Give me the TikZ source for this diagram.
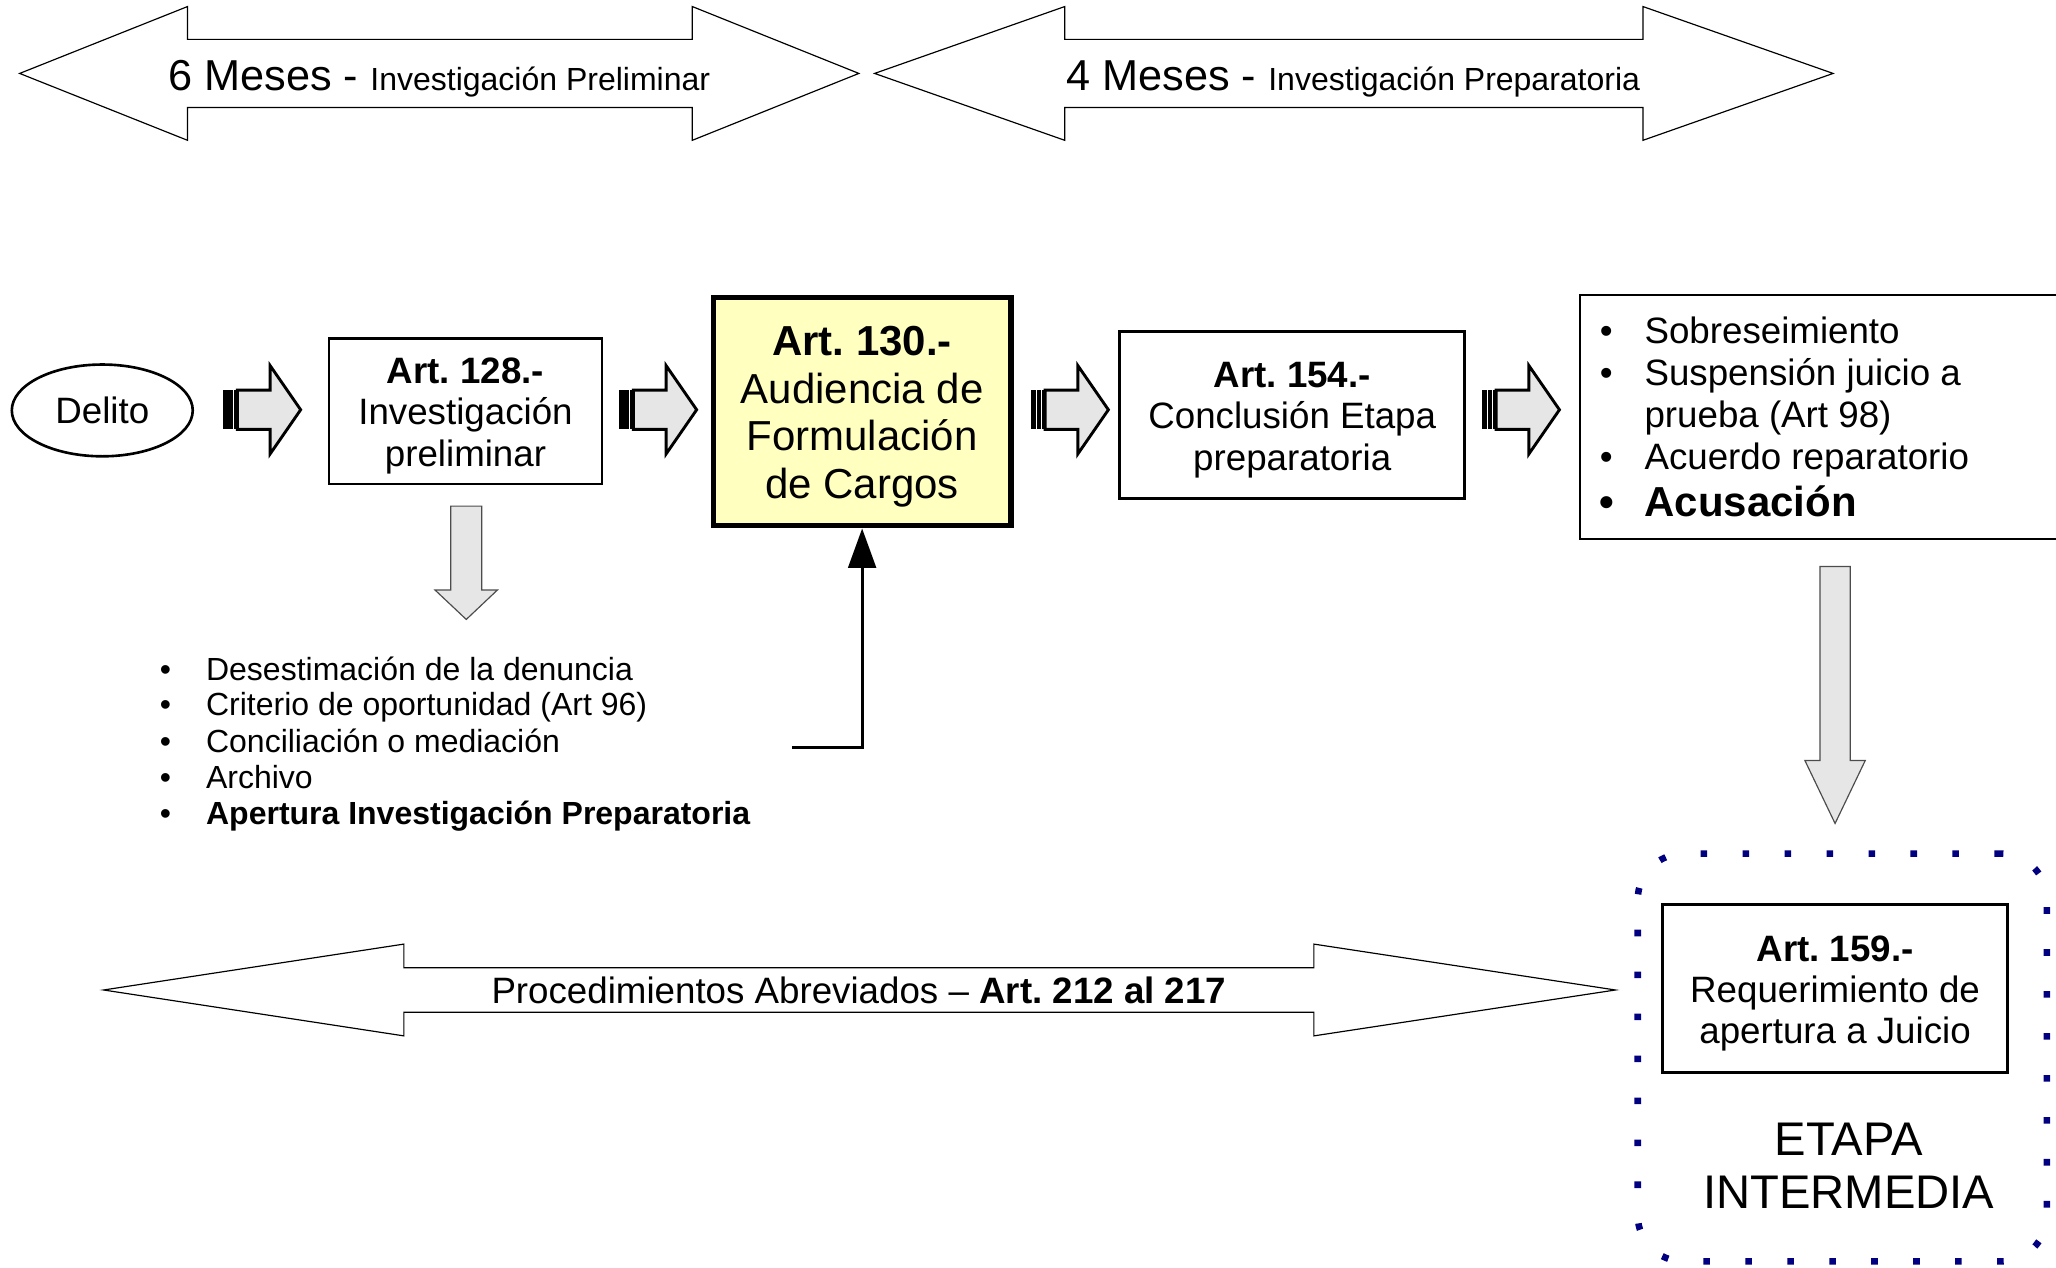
\documentclass[tikz,border=0pt]{standalone}
\usepackage{fontspec}
\setmainfont{Liberation Sans}
\usetikzlibrary{arrows.meta,shapes.geometric}
\definecolor{navydot}{RGB}{0,0,128}
\definecolor{paleyellow}{RGB}{255,255,192}
\definecolor{arrowgray}{RGB}{230,230,230}
\newcommand{\myTopStrut}[1]{\rule{0pt}{#1}}
\frenchspacing
\tikzset{
  box/.style={draw, line width=2pt, inner sep=0pt, align=center, font=\fontsize{28}{31.5}\selectfont},
  bigbox/.style={draw, line width=4pt, fill=paleyellow, inner sep=0pt, align=center, font=\fontsize{32}{36.5}\selectfont},
  dblarrow/.style={draw, line width=0.9pt, fill=white, line join=miter},
  blockarrow/.style={draw, line width=2.2pt, fill=arrowgray, line join=miter},
  downarrow/.style={draw=black!70, line width=0.9pt, fill=arrowgray},
  listitem/.style={anchor=base west, inner sep=0pt},
  listR/.style={listitem, font=\fontsize{28}{32}\selectfont},
  listL/.style={listitem, font=\fontsize{24.4}{27.5}\selectfont},
  connector/.style={line width=2.5pt, -{Triangle[length=30pt,width=21pt]}},
  stripearrow/.pic={
    \fill (0,-15) rectangle (4.3,15);
    \fill (5,-15) rectangle (7.7,15);
    \fill (8.4,-15) rectangle (11,15);
    \draw[blockarrow] (11,-15) -- (36,-15) -- (36,-33.7) -- (59.3,0) -- (36,33.7) -- (36,15) -- (11,15) -- cycle;
  }
}
\begin{document}
\frenchspacing
\begin{tikzpicture}[x=1pt,y=-1pt]
\useasboundingbox (0,0) rectangle (1568,967);

% top double arrows
\draw[dblarrow] (15,56) -- (143,5) -- (143,30) -- (528,30) -- (528,5) -- (655,56) -- (528,107) -- (528,82) -- (143,82) -- (143,107) -- cycle;
\node[anchor=base, inner sep=0pt] (t1) at (335,69) {{\fontsize{33}{36}\selectfont 6 Meses - }{\fontsize{24.4}{28}\selectfont Investigación Preliminar}};
\draw[dblarrow] (667,56) -- (812,5) -- (812,30) -- (1253,30) -- (1253,5) -- (1398,56) -- (1253,107) -- (1253,82) -- (812,82) -- (812,107) -- cycle;
\node[anchor=base, inner sep=0pt] (t2) at (1032,69) {{\fontsize{33}{36}\selectfont 4 Meses - }{\fontsize{24.4}{28}\selectfont Investigación Preparatoria}};

% main row
\node[draw, ellipse, line width=2pt, minimum width=138, minimum height=70, inner sep=0pt, font=\fontsize{28}{31.5}\selectfont] (delito) at (78,313) {Delito};
\pic at (170,312.5) {stripearrow};
\node[box, minimum width=208, minimum height=111] (b128) at (355,313.5) {\myTopStrut{27pt}\textbf{Art. 128.-}\\Investigación\\preliminar};
\pic at (472,312.5) {stripearrow};
\node[bigbox, minimum width=227, minimum height=174] (b130) at (657.5,314) {\myTopStrut{30pt}\textbf{Art. 130.-}\\Audiencia de\\Formulación\\de Cargos};
\pic at (786,312.5) {stripearrow};
\node[box, minimum width=263, minimum height=127] (b154) at (985.5,316.5) {\myTopStrut{27pt}\textbf{Art. 154.-}\\Conclusión Etapa\\preparatoria};
\pic at (1130,312.5) {stripearrow};

% right list box
\draw[line width=1pt] (1570,225) -| (1205,411) -- (1570,411);
\node[listR] (r1) at (1220,262) {\makebox[34pt][l]{•}Sobreseimiento};
\node[listR] (r2) at (1220,294) {\makebox[34pt][l]{•}Suspensión juicio a};
\node[listR] (r3) at (1254,326) {prueba (Art 98)};
\node[listR] (r4) at (1220,358) {\makebox[34pt][l]{•}Acuerdo reparatorio};
\node[listitem, font=\bfseries\fontsize{32}{36}\selectfont] (r5) at (1219.4,394) {\makebox[34.6pt][l]{•}Acusación};

% down arrow under Art. 128
\draw[downarrow] (343.8,386) -- (367.4,386) -- (367.4,450) -- (379.3,450) -- (355.6,472.4) -- (331.8,450) -- (343.8,450) -- cycle;

% left list
\node[listL] (l1) at (121.7,519) {\makebox[35.3pt][l]{•}Desestimación de la denuncia};
\node[listL] (l2) at (121.7,546) {\makebox[35.3pt][l]{•}Criterio de oportunidad (Art 96)};
\node[listL] (l3) at (121.7,573.5) {\makebox[35.3pt][l]{•}Conciliación o mediación};
\node[listL] (l4) at (121.7,601) {\makebox[35.3pt][l]{•}Archivo};
\node[listL] (l5) at (121.7,628.5) {\makebox[35.3pt][l]{•}\textbf{Apertura Investigación Preparatoria}};

% connector to Art. 130
\coordinate (cstart) at (604,570);
\draw[connector] (cstart) -| (b130.south);

% right down arrow
\draw[downarrow] (1388,432) -- (1411,432) -- (1411,580) -- (1422.5,580) -- (1399.5,628) -- (1376.5,580) -- (1388,580) -- cycle;

% bottom double arrow
\draw[dblarrow] (79,755) -- (308,720) -- (308,738) -- (1002,738) -- (1002,720) -- (1232,755) -- (1002,790) -- (1002,772) -- (308,772) -- (308,790) -- cycle;
\node[anchor=base, inner sep=0pt, font=\fontsize{28}{31.5}\selectfont] (pa) at (655,765) {Procedimientos Abreviados – \textbf{Art. 212 al 217}};

% etapa intermedia
\node[draw=navydot, line width=5pt, dash pattern=on 5pt off 27pt, rounded corners=35pt, minimum width=312, minimum height=311, inner sep=0pt] (etapa) at (1405,806.5) {};
\node[box, minimum width=263, minimum height=128] (b159) at (1399.5,754) {\myTopStrut{27pt}\textbf{Art. 159.-}\\Requerimiento de\\apertura a Juicio};
\node[align=center, inner sep=0pt, font=\fontsize{36}{41}\selectfont] (etl) at (1410,889) {ETAPA\\INTERMEDIA};
\end{tikzpicture}
\end{document}
